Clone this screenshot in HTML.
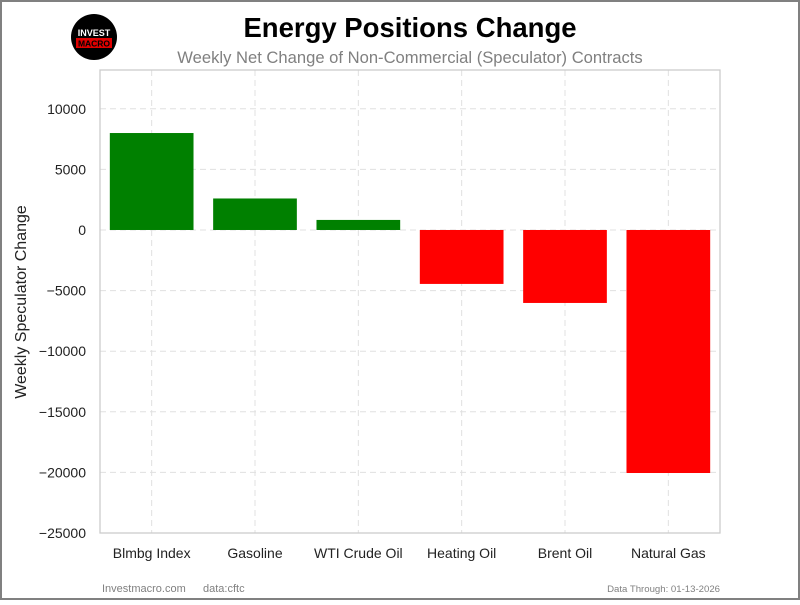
<!DOCTYPE html>
<html><head><meta charset="utf-8"><style>
html,body{margin:0;padding:0;background:#fff;}
body{width:800px;height:600px;overflow:hidden;font-family:"Liberation Sans",sans-serif;}
</style></head><body>
<svg width="800" height="600" xmlns="http://www.w3.org/2000/svg" font-family="Liberation Sans, sans-serif">
<rect x="1" y="1" width="798" height="598" fill="#fff" stroke="#808080" stroke-width="2"/>
<g>
<circle cx="94" cy="37" r="23" fill="#000"/>
<text x="94" y="36" text-anchor="middle" font-size="9" font-weight="bold" fill="#fff">INVEST</text>
<rect x="76" y="38" width="36" height="10" fill="#e00000"/>
<text x="94" y="46.5" text-anchor="middle" font-size="8.5" font-weight="bold" fill="#000">MACRO</text>
</g>
<text x="410" y="37" text-anchor="middle" font-size="27.5" font-weight="bold" fill="#000">Energy Positions Change</text>
<text x="410" y="63" text-anchor="middle" font-size="16.6" fill="#808080">Weekly Net Change of Non-Commercial (Speculator) Contracts</text>
<g id="grid"></g>
<g id="bars"></g>
<g id="axes"></g>
<rect x="100" y="70" width="620" height="463" fill="none" stroke="#cccccc" stroke-width="1.3"/>
<text transform="translate(26,302) rotate(-90)" text-anchor="middle" font-size="16" fill="#222">Weekly Speculator Change</text>
<text x="102" y="592" font-size="11" fill="#808080">Investmacro.com</text>
<text x="203" y="592" font-size="11" fill="#808080">data:cftc</text>
<text x="720" y="592" text-anchor="end" font-size="9.6" fill="#808080">Data Through: 01-13-2026</text>
</svg>
<script>
const categories=["Blmbg Index","Gasoline","WTI Crude Oil","Heating Oil","Brent Oil","Natural Gas"];
const values=[8000,2600,830,-4450,-6020,-20050];
const yTicks=[10000,5000,0,-5000,-10000,-15000,-20000,-25000];
const yMin=-25000,yMax=13200,pL=100,pR=720,pT=70,pB=533;
const NS="http://www.w3.org/2000/svg";
function y(v){return pB-(v-yMin)/(yMax-yMin)*(pB-pT);}
const bw=(pR-pL)/categories.length;
function xc(i){return pL+bw*(i+0.5);}
function mk(t,a,p){const e=document.createElementNS(NS,t);for(const k in a)e.setAttribute(k,a[k]);document.getElementById(p).appendChild(e);return e;}
yTicks.forEach(t=>{
 const l=mk("line",{x1:pL,x2:pR,y1:y(t),y2:y(t),stroke:"#e0e0e0","stroke-dasharray":"6,4"},"grid");
 
 
 const tx=mk("text",{x:pL-14,y:y(t)+5,"text-anchor":"end","font-size":"14",fill:"#222"},"axes");
 tx.textContent=String(t).replace("-","\u2212");
 
 
});
categories.forEach((c,i)=>{
 const l=mk("line",{x1:xc(i),x2:xc(i),y1:pT,y2:pB,stroke:"#e0e0e0","stroke-dasharray":"6,4"},"grid");
 
 
 const v=values[i],w=bw*0.81;
 const r=mk("rect",{x:xc(i)-w/2,y:Math.min(y(v),y(0)),width:w,height:Math.abs(y(v)-y(0)),fill:v>=0?"#008000":"#ff0000"},"bars");
 
 
 const tx=mk("text",{x:xc(i),y:pB+25,"text-anchor":"middle","font-size":"14",fill:"#222"},"axes");
 tx.textContent=c;
 
 
});
</script>
</body></html>
